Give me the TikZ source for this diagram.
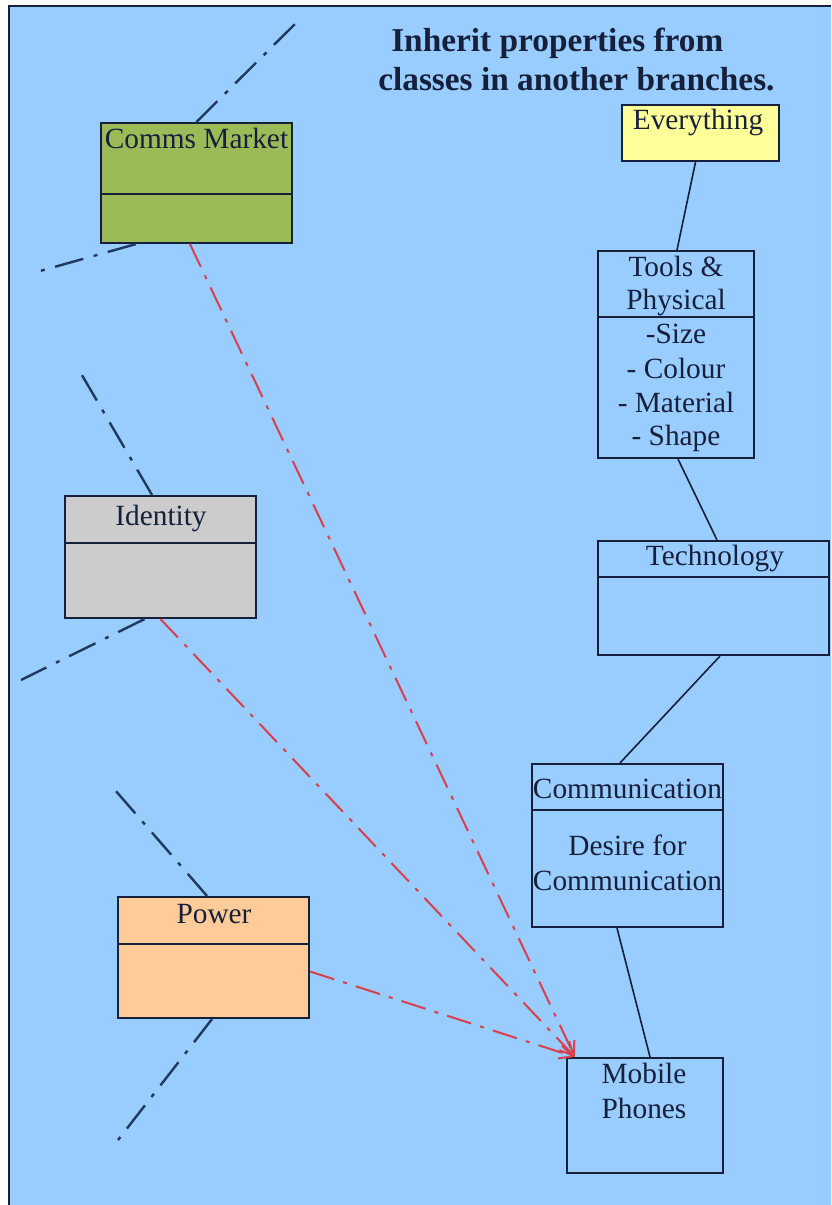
\documentclass[tikz,border=0pt]{standalone}
\usepackage{fontspec}
\setmainfont{Liberation Serif}
\usetikzlibrary{arrows.meta,fit,calc}

\definecolor{sky}{HTML}{99CCFF}
\definecolor{ink}{HTML}{16203A}
\definecolor{navydash}{HTML}{1F3A5C}
\definecolor{inherit}{HTML}{D8404E}
\definecolor{olive}{HTML}{9BBB59}
\definecolor{paleyellow}{HTML}{FFFF99}
\definecolor{silver}{HTML}{CCCCCC}
\definecolor{peach}{HTML}{FFCC99}

\tikzset{
  classbox/.style={draw=ink, line width=1.6pt, inner sep=0pt},
  divider/.style={draw=ink, line width=1.6pt},
  lbl/.style={anchor=base, inner sep=0pt, text=ink, font=\fontsize{22}{25}\selectfont},
  heading/.style={anchor=base west, inner sep=0pt, text=ink, font=\fontsize{25}{29}\selectfont\bfseries},
  link/.style={draw=ink, line width=1.2pt},
  branch/.style={draw=navydash, line width=1.8pt, dash pattern=on 22pt off 8pt on 3pt off 8pt},
  inherits/.style={draw=inherit, line width=1.5pt, dash pattern=on 19pt off 7pt on 3pt off 7pt,
    -{Straight Barb[length=10pt,width=10pt]}}
}

% class box: name, x1, y1, x2, y2, divider y, fill colour
\newcommand{\classrect}[7]{%
  \coordinate (#1-nw) at (#2,#3);
  \coordinate (#1-se) at (#4,#5);
  \node[classbox, fill=#7, fit=(#1-nw)(#1-se)] (#1) {};
  \draw[divider] (#2,#6) -- (#4,#6);
}

\begin{document}
\begin{tikzpicture}[x=0.75pt,y=-0.75pt]
\useasboundingbox (0,0) rectangle (831,1205);
\fill[white] (0,0) rectangle (831,1205);
\fill[sky] (9,6) rectangle (831,1205);
\draw[ink, line width=1.5pt] (9,1205) -- (9,6) -- (831,6);

% heading
\node[heading] (head1) at (391,52) {Inherit properties from};
\node[heading] (head2) at (378,91) {classes in another branches.};

% class boxes
\classrect{every}{622}{105}{779}{161}{161}{paleyellow}
\classrect{tools}{598}{251}{754}{458}{317}{sky}
\classrect{tech}{598}{541}{829}{655}{577}{sky}
\classrect{comm}{532}{764}{723}{927}{810}{sky}
\classrect{mob}{567}{1058}{723}{1173}{1173}{sky}
\classrect{cm}{101}{123}{292}{243}{194}{olive}
\classrect{ident}{65}{496}{256}{618}{543}{silver}
\classrect{pow}{118}{897}{309}{1018}{944}{peach}

% box texts
\node[lbl] (every-t) at (698,130) {Everything};
\node[lbl] (tools-t1) at (676,277) {Tools \&};
\node[lbl] (tools-t2) at (676,310) {Physical};
\node[lbl] (tools-a1) at (676,343) {-Size};
\node[lbl] (tools-a2) at (676,378) {- Colour};
\node[lbl] (tools-a3) at (676,412) {- Material};
\node[lbl] (tools-a4) at (676,445) {- Shape};
\node[lbl] (tech-t) at (715,565) {Technology};
\node[lbl] (comm-t) at (627.5,798) {Communication};
\node[lbl] (comm-a1) at (627.5,855) {Desire for};
\node[lbl] (comm-a2) at (627.5,890) {Communication};
\node[lbl] (mob-t1) at (644,1083) {Mobile};
\node[lbl] (mob-t2) at (644,1118) {Phones};
\node[lbl] (cm-t) at (196.5,149) {Comms Market};
\node[lbl] (ident-t) at (161,525) {Identity};
\node[lbl] (pow-t) at (214,923) {Power};

% hierarchy links
\draw[link] ($(every.south)+(-5,0)$) -- ($(tools.north)+(1,0)$);
\draw[link] ($(tools.south)+(2,0)$) -- ($(tech.north)+(3.5,0)$);
\draw[link] ($(tech.south)+(6.5,0)$) -- ($(comm.north)+(-7.5,0)$);
\draw[link] ($(comm.south)+(-10.5,0)$) -- ($(mob.north)+(5,0)$);

% branches continuing elsewhere
\coordinate (cm-up) at (297,22);
\coordinate (cm-down) at (40,271);
\coordinate (ident-up) at (79,370);
\coordinate (ident-down) at (21,680);
\coordinate (pow-up) at (115,790);
\coordinate (pow-down) at (118,1140);
\draw[branch] (cm.north) -- (cm-up);
\draw[branch] ($(cm.south west)+(36,0)$) -- (cm-down);
\draw[branch] ($(ident.north)+(-8.5,0)$) -- (ident-up);
\draw[branch] ($(ident.south)+(-16,0)$) -- (ident-down);
\draw[branch] ($(pow.north)+(-6.5,0)$) -- (pow-up);
\draw[branch] ($(pow.south)+(-1.5,0)$) -- (pow-down);

% inherited properties
\coordinate (mob-in) at ($(mob.north west)+(9,0)$);
\draw[inherits] ($(cm.south)+(-6.5,0)$) -- (mob-in);
\draw[inherits] (ident.south) -- (mob-in);
\draw[inherits] ($(pow.east)+(0,14)$) -- (mob-in);
\end{tikzpicture}
\end{document}
